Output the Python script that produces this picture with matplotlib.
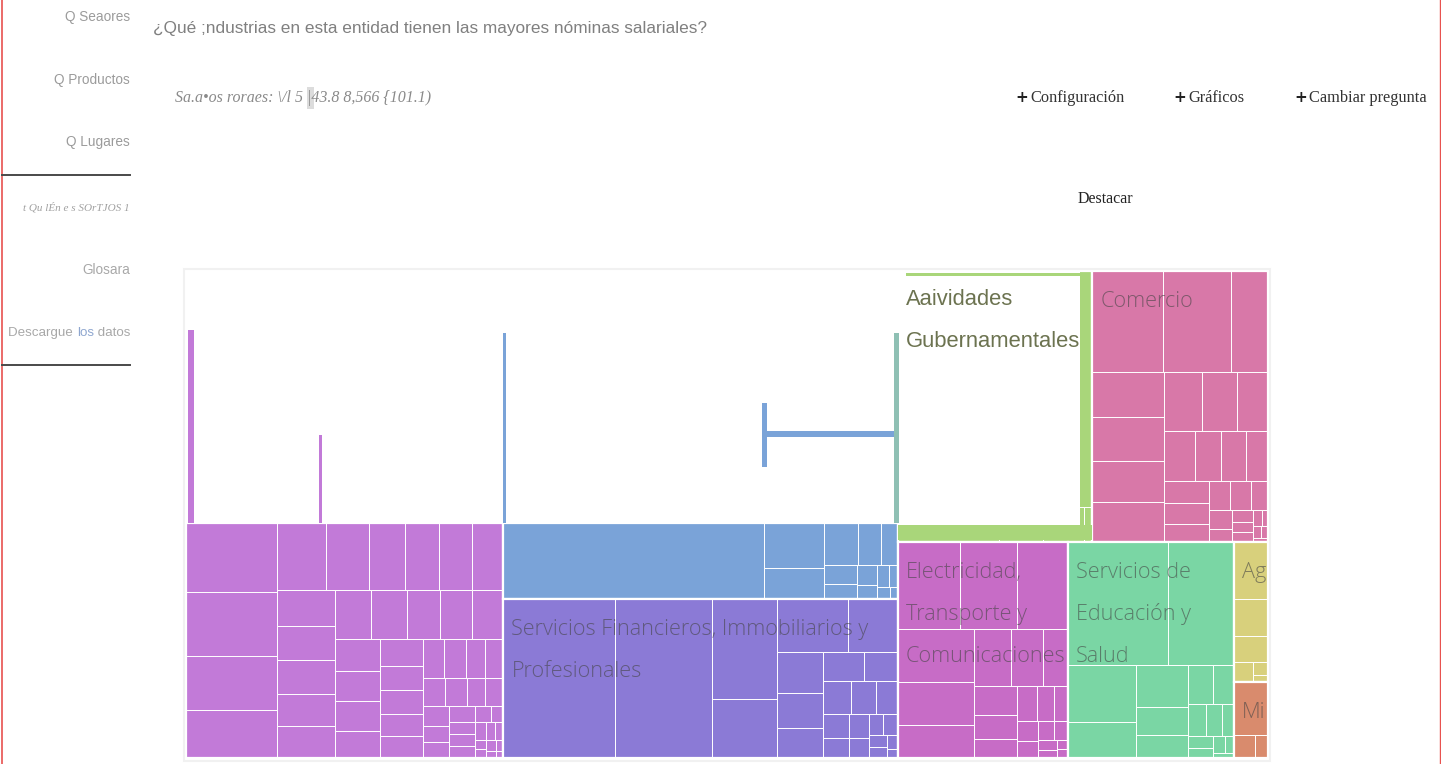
import matplotlib.pyplot as plt
from matplotlib.patches import Rectangle

# ---- datos: nómina salarial por sector (valores relativos) ----
sectores = ['Industrias Manufactureras', 'Construcción',
            'Servicios Financieros, Immobiliarios y Profesionales',
            'Actividades Gubernamentales', 'Comercio',
            'Electricidad, Transporte y Comunicaciones',
            'Servicios de Educación y Salud', 'Agropecuario', 'Minería']
etiquetas = ['', '', 'Servicios Financieros, Immobiliarios y\nProfesionales',
             'Aaividades\nGubernamentales', 'Comercio',
             'Electricidad,\nTransporte y\nComunicaciones',
             'Servicios de\nEducación y\nSalud', 'Ag', 'Mi']
nomina = [154.4, 129.2, 62.6, 52.7, 47.5, 36.8, 35.7, 4.8, 2.6]
colores = ['#c27ad8', '#7aa3d8', '#8b7ad6', '#a9d67a', '#d878a8',
           '#c76cc6', '#7ad6a4', '#d8d07c', '#d98b6d']

sub_manuf = [6.1, 5.6, 4.8, 4.2, 3.1, 2.8, 2.3, 2.2, 2.1, 2.0, 2.0, 1.9, 1.9, 1.8,
             1.8, 1.7, 1.7, 1.6, 1.5, 1.5, 1.4, 1.3, 1.3, 1.2, 1.1, 1.0, 1.0, 0.9,
             0.9, 0.8, 0.8, 0.7, 0.7, 0.6, 0.6, 0.5, 0.5, 0.5, 0.4, 0.4, 0.4, 0.3,
             0.3, 0.3, 0.25, 0.2, 0.2, 0.15, 0.15, 0.1, 0.1, 0.1, 0.08, 0.06, 0.05]
sub_constr = [19.9, 2.7, 1.9, 0.7, 1.4, 1.0, 0.6, 0.5, 0.4, 0.3, 0.25, 0.2, 0.15, 0.1]
sub_finan = [17.6, 15.3, 6.4, 3.8, 3.7, 2.6, 1.9, 1.6, 1.4, 1.2, 1.0, 0.9, 0.8,
             0.7, 0.6, 0.5, 0.5, 0.4, 0.3, 0.3, 0.2, 0.2, 0.15, 0.1]
sub_gub = [46.0, 3.5, 1.5, 0.9, 0.5, 0.3]
sub_comercio = [7.0, 6.8, 3.7, 3.2, 3.1, 2.9, 2.8, 2.2, 2.0, 1.8, 1.5, 1.3, 1.2,
                1.1, 1.0, 0.9, 0.8, 0.6, 0.6, 0.5, 0.45, 0.3, 0.25, 0.2, 0.2,
                0.15, 0.1, 0.1, 0.08, 0.06]
sub_elec = [5.3, 4.8, 4.4, 4.0, 3.2, 2.5, 2.0, 1.8, 1.4, 1.2, 1.0, 0.8, 0.7, 0.6,
            0.5, 0.4, 0.35, 0.3, 0.25, 0.2, 0.15, 0.1, 0.1]
sub_educ = [12.4, 8.2, 3.9, 2.5, 2.2, 1.5, 1.2, 1.0, 0.8, 0.6, 0.5, 0.4, 0.3,
            0.25, 0.2, 0.15, 0.1]
sub_agro = [2.0, 1.3, 0.9, 0.4, 0.2, 0.1]
sub_mineria = [1.8, 0.5, 0.3]
subsectores = [sub_manuf, sub_constr, sub_finan, sub_gub, sub_comercio,
               sub_elec, sub_educ, sub_agro, sub_mineria]

# orden de franjas del treemap (columnas / filas de sectores)
franjas = [('col', [0]), ('col', [1, 2]), ('fila', [3, 4]),
           ('col', [5]), ('col', [6]), ('col', [7, 8])]

menu = ['Q Seaores', 'Q Productos', 'Q Lugares']
botones = ['Configuración', 'Gráficos', 'Cambiar pregunta']

PHI = (1 + 5 ** 0.5) / 2
razon = [PHI, PHI, 1.0, PHI, PHI, PHI, PHI, PHI, PHI]


def layout_franjas(valores, franjas, W, H):
    rects = [None] * len(valores)
    x0, y0, x1, y1 = 0.0, 0.0, W, H
    resto = float(sum(valores))
    for orient, idx in franjas:
        s = sum(valores[i] for i in idx)
        if orient == 'col':
            w = (x1 - x0) * s / resto
            yy = y0
            for i in idx:
                h = (y1 - y0) * valores[i] / s
                rects[i] = (x0, yy, w, h); yy += h
            x0 += w
        else:
            h = (y1 - y0) * s / resto
            xx = x0
            for i in idx:
                w = (x1 - x0) * valores[i] / s
                rects[i] = (xx, y0, w, h); xx += w
            y0 += h
        resto -= s
    return rects


def squarify(values, x0, y0, x1, y1, ratio=PHI):
    vals = sorted(values, reverse=True)
    out = []
    i0, n = 0, len(vals)
    value = float(sum(vals))
    while i0 < n:
        dx, dy = x1 - x0, y1 - y0
        i1 = i0
        s = vals[i1]; i1 += 1
        mn = mx = s
        alpha = max(dy / dx, dx / dy) / (value * ratio)
        beta = s * s * alpha
        min_ratio = max(mx / beta, beta / mn)
        while i1 < n:
            v = vals[i1]
            s2 = s + v
            mn2, mx2 = min(mn, v), max(mx, v)
            beta = s2 * s2 * alpha
            r = max(mx2 / beta, beta / mn2)
            if r > min_ratio:
                break
            s, mn, mx, min_ratio = s2, mn2, mx2, r
            i1 += 1
        row = vals[i0:i1]
        if dx < dy:
            h = dy * s / value
            xx = x0
            for v in row:
                w = dx * v / s
                out.append((xx, y0, w, h)); xx += w
            y0 += h
        else:
            w = dx * s / value
            yy = y0
            for v in row:
                hh = dy * v / s
                out.append((x0, yy, w, hh)); yy += hh
            x0 += w
        value -= s
        i0 = i1
    return out


narrow = ['Liberation Sans Narrow', 'Liberation Sans', 'DejaVu Sans']
serif = ['Liberation Serif', 'DejaVu Serif']

fig = plt.figure(figsize=(14.41, 7.64), dpi=100)
page = fig.add_axes([0, 0, 1, 1])
page.set_xlim(0, 1441); page.set_ylim(764, 0); page.axis('off')
r = fig.canvas.get_renderer()

# bordes rojos de la página
page.plot([1.5, 1.5], [0, 764], color='#e8524f', lw=1.2)
page.plot([1439.5, 1439.5], [0, 764], color='#e8524f', lw=1.0)

# menú lateral
for s, y in zip(menu, [17, 80, 142]):
    page.text(130, y, s, ha='right', va='center', fontsize=9.8, color='#9b9b9b', family=narrow)
page.plot([2, 130], [175, 175], color='#4a4a4a', lw=1.4)
page.plot([2, 130], [365, 365], color='#4a4a4a', lw=1.4)
page.text(130, 207, 't Qu lÉn e s SOrTJOS 1', ha='right', va='center', fontsize=8,
          color='#a0a0a0', family=serif, style='italic')
page.text(130, 270, 'Glosara', ha='right', va='center', fontsize=9.8, color='#a8a8a8', family=narrow)
x = 130
for s, c in reversed([('Descargue ', '#a8a8a8'), ('los', '#8ea6cf'), (' datos', '#a8a8a8')]):
    t = page.text(x, 333, s, ha='right', va='center', fontsize=9.6, color=c, family=narrow)
    x -= t.get_window_extent(r).width

# título y subtítulo
page.text(153, 28, '¿Qué ;ndustrias en esta entidad tienen las mayores nóminas salariales?',
          va='center', fontsize=12.4, color='#808080', family=narrow)
page.add_patch(Rectangle((307, 87), 7, 22, color='#dcdcdc', lw=0))
page.text(175, 98, 'Sa.a•os roraes: \\/l 5 |43.8 8,566 {101.1)', va='center', fontsize=11.5,
          color='#8a8a8a', family=serif, style='italic')

for bx, s in zip([1015, 1173, 1294], botones):
    page.text(bx, 97, '+', va='center', fontsize=11, fontweight='bold', color='#222222', family='DejaVu Sans')
    page.text(bx + 15, 98, s, va='center', fontsize=11.8, color='#333333', family=serif)
page.text(1105, 199, 'Destacar', ha='center', va='center', fontsize=11.5, color='#222222', family=serif)

# contenedor del treemap
page.add_patch(Rectangle((184, 269), 1086, 492, fill=False, ec='#f1f1f1', lw=1.5, zorder=0))

W, H = 1082.0, 487.0
tm = fig.add_axes([186 / 1441, 1 - 758 / 764, W / 1441, H / 764])
tm.set_xlim(0, W); tm.set_ylim(H, 0); tm.axis('off')

corte = 0.518 * H   # la animación sólo ha dibujado la parte baja de los dos primeros bloques
grupos = layout_franjas(nomina, franjas, W, H)

for i, (gx, gy, gw, gh) in enumerate(grupos):
    y_top = max(gy, corte) if i < 2 else gy
    hh = gy + gh - y_top
    for (cx, cy, cw, ch) in squarify(subsectores[i], gx, y_top, gx + gw, y_top + hh, razon[i]):
        tm.add_patch(Rectangle((cx, cy), cw, ch, fc=colores[i], ec='white', lw=0.7))
    tm.add_patch(Rectangle((gx, y_top), gw, hh, fill=False, ec='white', lw=1.6))

# Actividades Gubernamentales: interior aún en blanco
gx, gy, gw, gh = grupos[3]
tm.add_patch(Rectangle((gx, gy + 5), gw - 12, gh - 22, fc='white', lw=0, zorder=3))
tm.add_patch(Rectangle((gx, gy), 8, 6, fc='white', lw=0, zorder=3))
tm.add_patch(Rectangle((gx, gy), gw - 12, 2, fc='white', lw=0, zorder=3))
tm.add_patch(Rectangle((gx, gy + gh - 17), gw, 15, fc=colores[3], lw=0, zorder=3))

# trazos parciales de la animación (relativos a los bloques)
mx, my, mw, mh = grupos[0]
cx, cy, cw, ch = grupos[1]
trazos = [(colores[0], mx + 2, mx + 8, 59, corte),
          (colores[0], mx + 0.42 * mw, mx + 0.43 * mw, 164, corte),
          (colores[1], cx, cx + 3, 62, corte),
          (colores[1], cx + 0.656 * cw, cx + 0.669 * cw, 132, 196),
          (colores[1], cx + 0.669 * cw, cx + cw - 3, 160, 166),
          ('#8fc0b4', cx + cw - 4, cx + cw + 1, 62, corte)]
for c, x0, x1, y0, y1 in trazos:
    tm.add_patch(Rectangle((x0, y0), x1 - x0, y1 - y0, fc=c, lw=0, zorder=4))

# etiquetas de sector
for i, (gx, gy, gw, gh) in enumerate(grupos):
    if not etiquetas[i]:
        continue
    clip = Rectangle((gx, gy), gw, gh, transform=tm.transData)
    for k, linea in enumerate(etiquetas[i].split('\n')):
        if i == 3:
            t = tm.text(gx + 8, gy + 34 + 42 * k, linea, va='baseline', fontsize=15.8,
                        color='#6c7350', family=narrow, zorder=5)
        else:
            t = tm.text(gx + 8, gy + 36 + 42 * k, linea, va='baseline', fontsize=15.6,
                        color='#444444', alpha=0.6, family=['Open Sans', 'DejaVu Sans'],
                        fontweight='light', zorder=5)
            t.set_clip_path(clip)

fig.savefig('out.png', dpi=100)
